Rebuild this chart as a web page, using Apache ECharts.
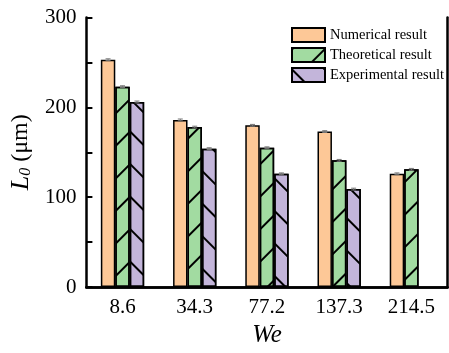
<!DOCTYPE html>
<html>
<head>
<meta charset="utf-8">
<script src="https://cdn.jsdelivr.net/npm/echarts@6/dist/echarts.min.js"></script>
<style>
  html, body { margin: 0; padding: 0; background: #fff; }
  #chart { width: 449px; height: 353px; }
</style>
</head>
<body>
<div id="chart"></div>
<script>
// Weber number groups along the x axis
const categories = ['8.6', '34.3', '77.2', '137.3', '214.5'];
// Breakup length L0 (μm) for each method
const numerical = [253, 186, 180, 173, 126];
const theoretical = [223, 178, 155, 141, 131];
const experimental = [206, 154, 126, 109, '-'];
// Small measurement spread drawn as error caps
const numericalErr = [1, 1, 1, 1, 1];
const theoreticalErr = [1, 1, 1, 1, 1];
const experimentalErr = [1, 1, 1, 1, null];
const seriesNames = ['Numerical result', 'Theoretical result', 'Experimental result'];
const yTicks = [0, 100, 200, 300];

const SERIF = '"Liberation Serif", "Times New Roman", serif';
const BAR_FRACTION = 0.2; // each bar takes 20% of a category band

const chart = echarts.init(document.getElementById('chart'), null, { renderer: 'canvas' });

function hatch(rotation) {
  return {
    symbol: 'rect',
    symbolSize: 1,
    color: '#000',
    dashArrayX: [1, 0],
    dashArrayY: [1.6, 20.5],
    rotation: rotation
  };
}

function errorSeries(values, errs, slot) {
  const data = values.map((v, i) => (v === '-' || errs[i] == null) ? null : [i, v, errs[i]]);
  return {
    type: 'custom',
    silent: true,
    z: 5,
    data: data.filter(d => d),
    renderItem: function (params, api) {
      const idx = api.value(0);
      const val = api.value(1);
      const err = api.value(2);
      const band = api.size([1, 0])[0];
      const dx = (slot - 1) * band * BAR_FRACTION;
      const hi = api.coord([idx, val + err]);
      const lo = api.coord([idx, val - err]);
      const x = hi[0] + dx;
      const cap = 2.5;
      const style = { stroke: '#777', lineWidth: 1 };
      return {
        type: 'group',
        children: [
          { type: 'line', shape: { x1: x, y1: hi[1], x2: x, y2: lo[1] }, style },
          { type: 'line', shape: { x1: x - cap, y1: hi[1], x2: x + cap, y2: hi[1] }, style },
          { type: 'line', shape: { x1: x - cap, y1: lo[1], x2: x + cap, y2: lo[1] }, style }
        ]
      };
    }
  };
}

const barBase = {
  type: 'bar',
  barWidth: (BAR_FRACTION * 100) + '%',
  barGap: '0%'
};

const option = {
  animation: false,
  backgroundColor: '#fff',
  grid: { left: 85.5, right: 1.5, top: 17.5, bottom: 57.5 },
  legend: {
    orient: 'vertical',
    left: 291,
    top: 27,
    padding: 0,
    icon: 'rect',
    itemWidth: 33,
    itemHeight: 14,
    itemGap: 4,
    data: seriesNames,
    textStyle: { fontFamily: SERIF, fontSize: 14.5, color: '#000' }
  },
  xAxis: [
    {
      type: 'category',
      data: categories,
      name: 'We',
      nameLocation: 'middle',
      nameGap: 36,
      nameTextStyle: { fontFamily: SERIF, fontStyle: 'italic', fontSize: 25, color: '#000' },
      axisLine: { lineStyle: { color: '#000', width: 2.5 } },
      axisTick: { inside: true, length: 5, lineStyle: { color: '#000', width: 2 } },
      axisLabel: { fontFamily: SERIF, fontSize: 21, color: '#000', margin: 10 }
    },
    {
      type: 'category',
      data: categories,
      position: 'top',
      axisLine: { lineStyle: { color: '#000', width: 2.5 } },
      axisTick: { show: false },
      axisLabel: { show: false }
    }
  ],
  yAxis: [
    {
      type: 'value',
      min: 0,
      max: 300,
      interval: 50,
      name: '{i|L}{s|0}{t| (μm)}',
      nameLocation: 'middle',
      nameGap: 51,
      nameTextStyle: {
        color: '#000',
        rich: {
          i: { fontFamily: SERIF, fontStyle: 'italic', fontSize: 26, color: '#000' },
          s: { fontFamily: SERIF, fontStyle: 'italic', fontSize: 16, color: '#000', verticalAlign: 'bottom', padding: [10, 0, 0, 0] },
          t: { fontFamily: SERIF, fontSize: 24, color: '#000' }
        }
      },
      axisLine: { show: true, lineStyle: { color: '#000', width: 2.5 } },
      axisTick: { show: true, inside: true, length: 6, lineStyle: { color: '#000', width: 2 } },
      splitLine: { show: false },
      axisLabel: {
        fontFamily: SERIF,
        fontSize: 21,
        color: '#000',
        margin: 10,
        formatter: v => (yTicks.indexOf(v) >= 0 ? String(v) : '')
      }
    },
    {
      type: 'value',
      min: 0,
      max: 300,
      interval: 50,
      position: 'right',
      axisLine: { show: true, lineStyle: { color: '#000', width: 2.5 } },
      axisTick: { show: false },
      axisLabel: { show: false },
      splitLine: { show: false }
    }
  ],
  series: [
    Object.assign({}, barBase, {
      name: seriesNames[0],
      data: numerical,
      itemStyle: { color: '#FDC897', borderColor: '#000', borderWidth: 1.5 }
    }),
    Object.assign({}, barBase, {
      name: seriesNames[1],
      data: theoretical,
      itemStyle: { color: '#A2DBA1', borderColor: '#000', borderWidth: 1.5, decal: hatch(-Math.PI / 4) }
    }),
    Object.assign({}, barBase, {
      name: seriesNames[2],
      data: experimental,
      itemStyle: { color: '#C3B5DA', borderColor: '#000', borderWidth: 1.5, decal: hatch(Math.PI / 4) }
    }),
    errorSeries(numerical, numericalErr, 0),
    errorSeries(theoretical, theoreticalErr, 1),
    errorSeries(experimental, experimentalErr, 2)
  ]
};

chart.setOption(option);
</script>
</body>
</html>
